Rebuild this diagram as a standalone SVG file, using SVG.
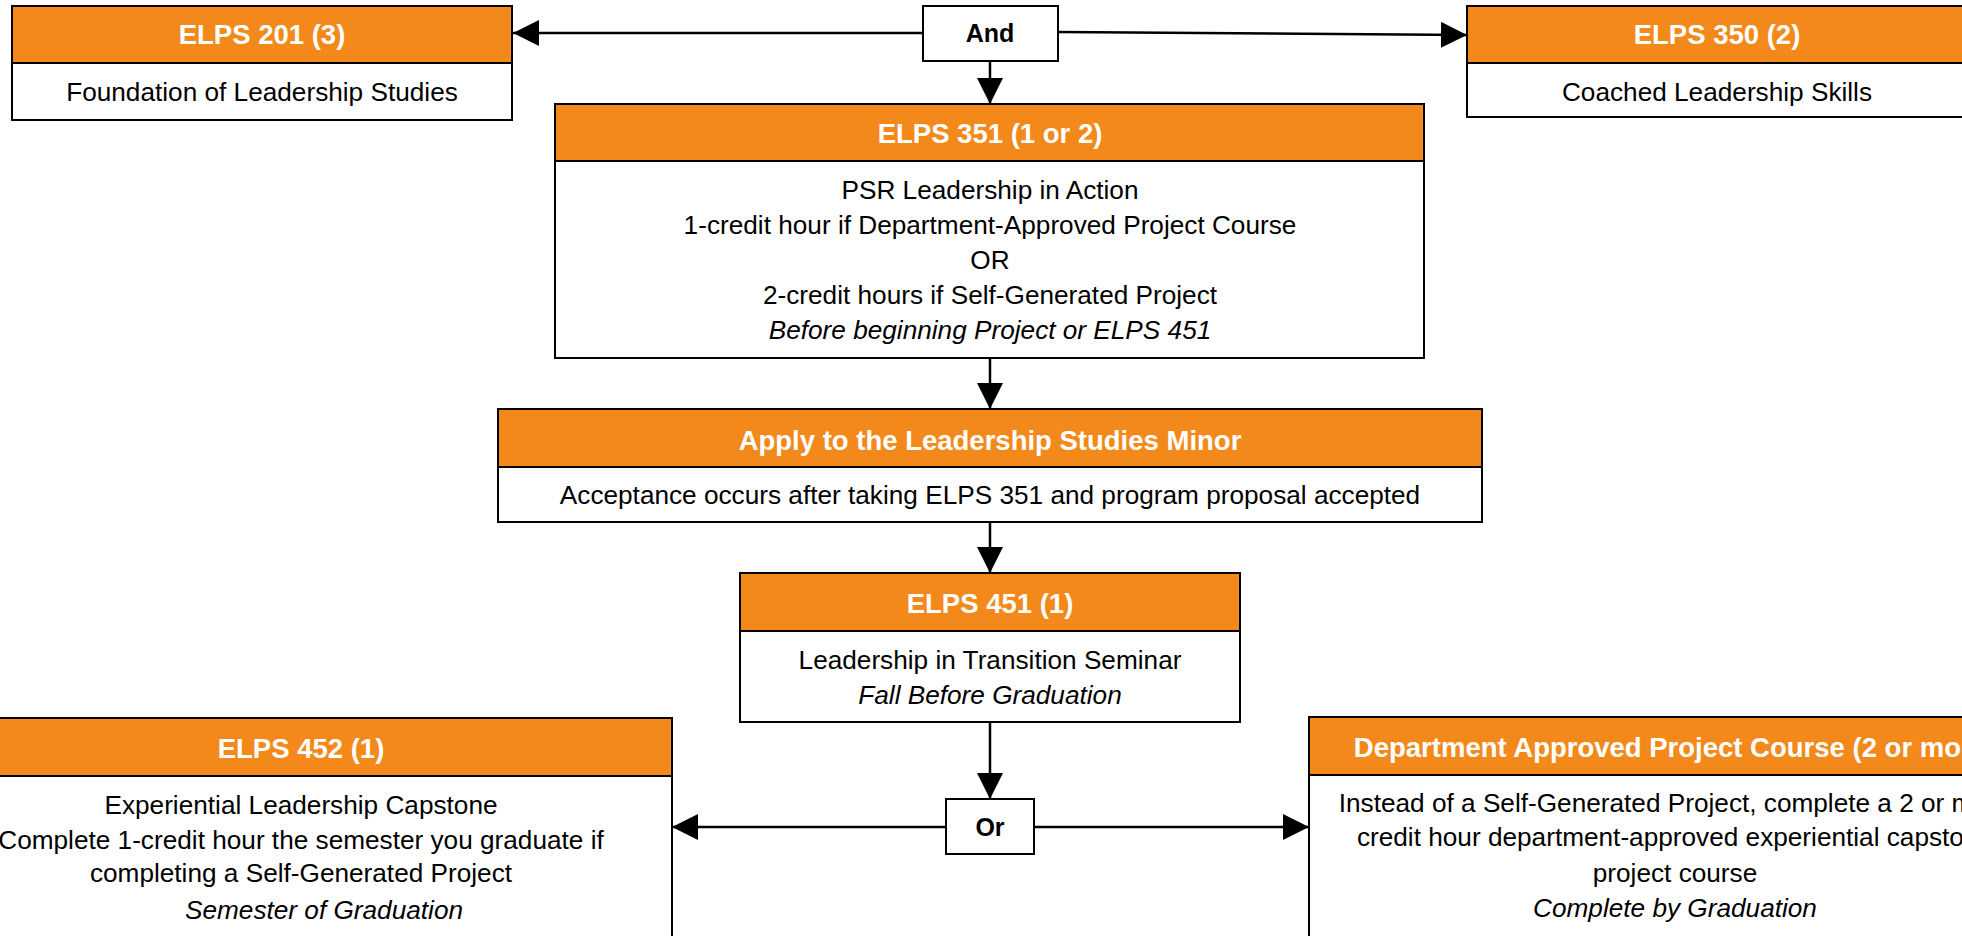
<svg xmlns="http://www.w3.org/2000/svg" width="1962" height="936" viewBox="0 0 1962 936">
<style>
.box{fill:#ffffff;stroke:#000;stroke-width:2}
.hdr{fill:#F4891B;stroke:#000;stroke-width:2}
.t{font-family:"Liberation Sans",Arial,sans-serif;font-size:27.5px;font-weight:bold;fill:#fff;text-anchor:middle}
.b{font-family:"Liberation Sans",Arial,sans-serif;font-size:26.2px;fill:#000;text-anchor:middle}
.i{font-style:italic}
.g{font-family:"Liberation Sans",Arial,sans-serif;font-size:25px;font-weight:bold;fill:#000;text-anchor:middle}
.c{stroke:#000;stroke-width:2.5;fill:none;marker-end:url(#ah)}
</style>
<defs>
<marker id="ah" markerUnits="userSpaceOnUse" markerWidth="26" markerHeight="26" refX="26" refY="13" orient="auto" viewBox="0 0 26 26">
<path d="M0,0 L26,13 L0,26 z" fill="#000"/>
</marker>
</defs>
<rect width="1962" height="936" fill="#fff"/>
<g id="connectors">
<line class="c" x1="923" y1="33" x2="513" y2="33"/>
<line class="c" x1="1058" y1="32" x2="1467" y2="35"/>
<line class="c" x1="990" y1="61" x2="990" y2="104"/>
<line class="c" x1="990" y1="358" x2="990" y2="409"/>
<line class="c" x1="990" y1="522" x2="990" y2="573"/>
<line class="c" x1="990" y1="722" x2="990" y2="799"/>
<line class="c" x1="946" y1="827" x2="672" y2="827"/>
<line class="c" x1="1034" y1="827" x2="1309" y2="827"/>
</g>
<g id="and">
<rect class="box" x="923" y="6" width="135" height="55"/>
<text class="g" x="990" y="42">And</text>
</g>
<g id="elps201">
<rect class="box" x="12" y="6" width="500" height="114"/>
<rect class="hdr" x="12" y="6" width="500" height="57"/>
<text class="t" x="262" y="44">ELPS 201 (3)</text>
<text class="b" x="262" y="101">Foundation of Leadership Studies</text>
</g>
<g id="elps350">
<rect class="box" x="1467" y="6" width="500" height="111"/>
<rect class="hdr" x="1467" y="6" width="500" height="57"/>
<text class="t" x="1717" y="44">ELPS 350 (2)</text>
<text class="b" x="1717" y="101">Coached Leadership Skills</text>
</g>
<g id="elps351">
<rect class="box" x="555" y="104" width="869" height="254"/>
<rect class="hdr" x="555" y="104" width="869" height="57"/>
<text class="t" x="990" y="143">ELPS 351 (1 or 2)</text>
<text class="b" x="990" y="199">PSR Leadership in Action</text>
<text class="b" x="990" y="234">1-credit hour if Department-Approved Project Course</text>
<text class="b" x="990" y="269">OR</text>
<text class="b" x="990" y="304">2-credit hours if Self-Generated Project</text>
<text class="b i" x="990" y="339">Before beginning Project or ELPS 451</text>
</g>
<g id="apply">
<rect class="box" x="498" y="409" width="984" height="113"/>
<rect class="hdr" x="498" y="409" width="984" height="58"/>
<text class="t" x="990" y="450">Apply to the Leadership Studies Minor</text>
<text class="b" x="990" y="504">Acceptance occurs after taking ELPS 351 and program proposal accepted</text>
</g>
<g id="elps451">
<rect class="box" x="740" y="573" width="500" height="149"/>
<rect class="hdr" x="740" y="573" width="500" height="58"/>
<text class="t" x="990" y="613">ELPS 451 (1)</text>
<text class="b" x="990" y="669">Leadership in Transition Seminar</text>
<text class="b i" x="990" y="704">Fall Before Graduation</text>
</g>
<g id="or">
<rect class="box" x="946" y="799" width="88" height="55"/>
<text class="g" x="990" y="836">Or</text>
</g>
<g id="elps452">
<rect class="box" x="-70" y="718" width="742" height="260"/>
<rect class="hdr" x="-70" y="718" width="742" height="58"/>
<text class="t" x="301" y="758">ELPS 452 (1)</text>
<text class="b" x="301" y="814">Experiential Leadership Capstone</text>
<text class="b" x="301" y="849">Complete 1-credit hour the semester you graduate if</text>
<text class="b" x="301" y="882">completing a Self-Generated Project</text>
<text class="b i" x="324" y="919">Semester of Graduation</text>
</g>
<g id="dept">
<rect class="box" x="1309" y="717" width="732" height="260"/>
<rect class="hdr" x="1309" y="717" width="732" height="58"/>
<text class="t" x="1675" y="757">Department Approved Project Course (2 or more)</text>
<text class="b" x="1675" y="812">Instead of a Self-Generated Project, complete a 2 or more</text>
<text class="b" x="1675" y="846">credit hour department-approved experiential capstone</text>
<text class="b" x="1675" y="882">project course</text>
<text class="b i" x="1675" y="917">Complete by Graduation</text>
</g>
</svg>
